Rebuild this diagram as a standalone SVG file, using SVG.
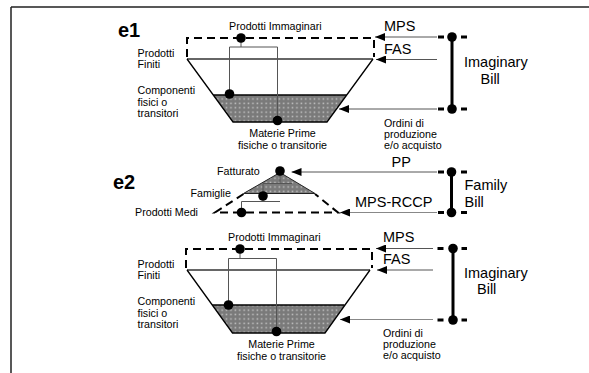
<svg xmlns="http://www.w3.org/2000/svg" width="589" height="373" viewBox="0 0 589 373">
<defs>
<pattern id="dots" width="4.4" height="4.4" patternUnits="userSpaceOnUse">
<rect width="4.4" height="4.4" fill="#7a7a7a"/>
<rect x="1.4" y="1.4" width="1.5" height="1.5" fill="#c4c4c4"/>
</pattern>
<marker id="ah" viewBox="0 0 10 8" refX="10" refY="4" markerWidth="10" markerHeight="8" markerUnits="userSpaceOnUse" orient="auto">
<path d="M0,0 L10,4 L0,8 Z" fill="#000"/>
</marker>
</defs>
<style>
text{font-family:"Liberation Sans",Arial,sans-serif;fill:#000}
.s{font-size:10.7px}
.m{font-size:14.5px}
.b{font-size:20px;font-weight:bold}
.dash{fill:none;stroke:#000;stroke-width:2;stroke-dasharray:8 5}
.edge{fill:none;stroke:#000;stroke-width:1.3}
.lvl{fill:none;stroke:#333;stroke-width:1.5}
.br{fill:none;stroke:#555;stroke-width:1}
.arr{fill:none;stroke:#555;stroke-width:1;marker-end:url(#ah)}
.arr2{fill:none;stroke:#888;stroke-width:1.2;marker-end:url(#ah)}
.bill{fill:none;stroke:#000;stroke-width:3}
.sd{fill:none;stroke:#000;stroke-width:3}
.dot{fill:#000}
.shade{fill:url(#dots)}
</style>
<g id="frame">
<path d="M11,7 H589 M11,7 V373" fill="none" stroke="#222" stroke-width="1.5"/>
</g>
<text class="b" x="118" y="36.5">e1</text>
<text class="b" x="113" y="189">e2</text>
<g id="funnel1">
<polygon class="shade" points="213.3,95 346.7,95 327,122 233,122"/>
<path class="edge" d="M213.3,95 H346.7"/>
<path class="dash" d="M187,57 V38 H374 V57"/>
<path class="lvl" d="M187,59 H373"/>
<path class="edge" d="M187,59 L233,122 H327 L373,59"/>
<path class="br" d="M241,38 V47 M229.5,94 V47 H277.5 V120.5"/>
<circle class="dot" cx="241" cy="38" r="4.8"/>
<circle class="dot" cx="229.5" cy="94" r="4.8"/>
<circle class="dot" cx="277.5" cy="120.5" r="4.8"/>
<text class="s" x="229" y="30">Prodotti Immaginari</text>
<text class="s" x="137.5" y="57">Prodotti</text>
<text class="s" x="137.5" y="67.5">Finiti</text>
<text class="s" x="137.5" y="94">Componenti</text>
<text class="s" x="137.5" y="105.5">fisici o</text>
<text class="s" x="137.5" y="117">transitori</text>
<text class="s" x="282.5" y="137" text-anchor="middle">Materie Prime</text>
<text class="s" x="282.5" y="149" text-anchor="middle">fisiche o transitorie</text>
</g>
<g id="bill1">
<path class="sd" d="M438,37 H444 M461,37 H467 M438,109 H444 M461,109 H467"/>
<path class="bill" d="M452,37 V109"/>
<circle class="dot" cx="452" cy="37" r="4.8"/>
<circle class="dot" cx="452" cy="109" r="4.8"/>
<text class="m" x="464" y="67">Imaginary</text>
<text class="m" x="480.5" y="83.5">Bill</text>
</g>
<g id="e2tri">
<polygon class="shade" points="280,172.5 315,193.5 243.5,193.5" stroke="#222" stroke-width="1"/>
<path class="dash" d="M243.5,194 L215,212.5 H338 L315,194" stroke-dasharray="7 5"/>
<path class="br" d="M280,171 V183.5 M292,183.5 H263 V196 M263,196 V201.5 M280,201.5 H241.5 V212.5"/>
<circle class="dot" cx="280" cy="171" r="4.8"/>
<circle class="dot" cx="263" cy="196" r="4.8"/>
<circle class="dot" cx="241.5" cy="212.5" r="4.8"/>
<text class="s" x="217" y="175">Fatturato</text>
<text class="s" x="190.5" y="197">Famiglie</text>
<text class="s" x="135" y="215.5">Prodotti Medi</text>
</g>
<g id="bill2">
<path class="sd" d="M438,172 H444 M461,172 H467 M438,212.5 H444 M461,212.5 H467"/>
<path class="bill" d="M451.5,172 V212.5"/>
<circle class="dot" cx="451.5" cy="172" r="4.8"/>
<circle class="dot" cx="451.5" cy="212.5" r="4.8"/>
<text class="m" x="464.5" y="190">Family</text>
<text class="m" x="464.5" y="206.5">Bill</text>
</g>
<g id="funnel2">
<polygon class="shade" points="212.3,305 344.5,305 325,333 232.5,333"/>
<path class="edge" d="M212.3,305 H344.5"/>
<path class="dash" d="M186,268 V249 H372 V268"/>
<path class="lvl" d="M187,270 H370"/>
<path class="edge" d="M187,270 L232.5,333 H325 L370,270"/>
<path class="br" d="M240,249 V258.5 M228.5,305 V258.5 H276.5 V331.5"/>
<circle class="dot" cx="240" cy="249" r="4.8"/>
<circle class="dot" cx="228.5" cy="305" r="4.8"/>
<circle class="dot" cx="276.5" cy="331.5" r="4.8"/>
<text class="s" x="228" y="241">Prodotti Immaginari</text>
<text class="s" x="137.5" y="268">Prodotti</text>
<text class="s" x="137.5" y="278.5">Finiti</text>
<text class="s" x="137.5" y="305">Componenti</text>
<text class="s" x="137.5" y="316.5">fisici o</text>
<text class="s" x="137.5" y="328">transitori</text>
<text class="s" x="281.5" y="348" text-anchor="middle">Materie Prime</text>
<text class="s" x="281.5" y="360" text-anchor="middle">fisiche o transitorie</text>
</g>
<g id="bill3">
<path class="sd" d="M437.5,248.5 H443.5 M461.5,248.5 H467 M437.5,320 H443.5 M461.5,320 H467"/>
<path class="bill" d="M453,248.5 V320"/>
<circle class="dot" cx="453" cy="248.5" r="4.8"/>
<circle class="dot" cx="453" cy="320" r="4.8"/>
<text class="m" x="464" y="278">Imaginary</text>
<text class="m" x="477" y="294">Bill</text>
</g>
<g id="connectors">
<path class="arr" d="M437,37 H375"/>
<path class="arr" d="M437,59.5 H376"/>
<path class="arr" d="M437,109 H339"/>
<path class="arr" d="M437,172 H291.5"/>
<path class="arr2" d="M437,212.5 H340"/>
<path class="arr" d="M433,248.5 H376"/>
<path class="arr" d="M433,270 H377"/>
<path class="arr2" d="M433,319.5 H340"/>
</g>
<g id="labels">
<text class="m" x="384" y="31">MPS</text>
<text class="m" x="384" y="53.5">FAS</text>
<text class="s" x="384" y="126.5">Ordini di</text>
<text class="s" x="384" y="137.5">produzione</text>
<text class="s" x="384" y="148.5">e/o acquisto</text>
<text class="m" x="391.5" y="167">PP</text>
<text class="m" x="355" y="207">MPS-RCCP</text>
<text class="m" x="383" y="242">MPS</text>
<text class="m" x="383" y="264">FAS</text>
<text class="s" x="383" y="337">Ordini di</text>
<text class="s" x="383" y="348">produzione</text>
<text class="s" x="383" y="359">e/o acquisto</text>
</g>
</svg>
